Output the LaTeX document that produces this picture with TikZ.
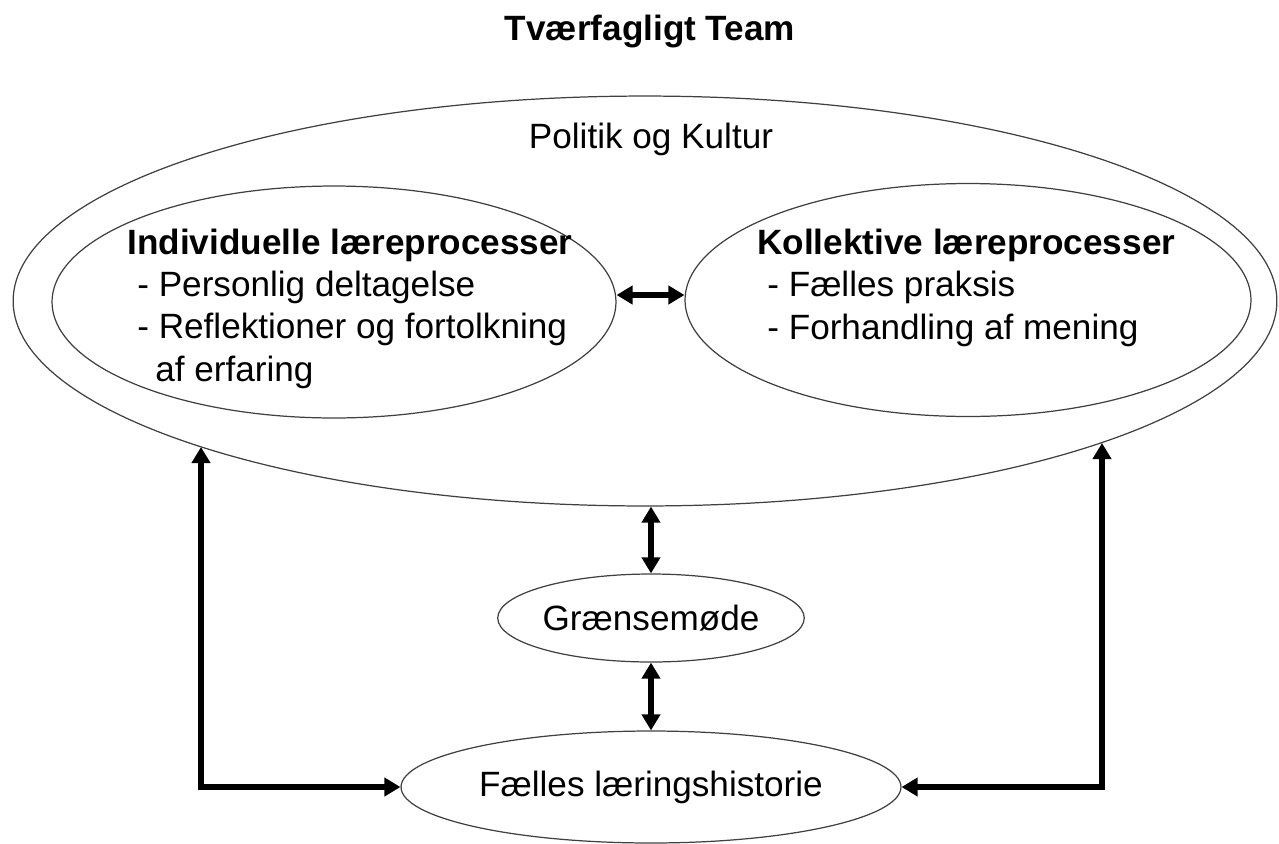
\documentclass[tikz,border=0pt]{standalone}
\usepackage{fontspec}
\setmainfont{Liberation Sans}
\usetikzlibrary{arrows.meta,shapes.geometric}

\begin{document}
\begin{tikzpicture}[x=0.02cm,y=-0.02cm,
  every node/.style={font=\fontsize{20}{24}\selectfont},
  oval/.style={ellipse,draw=black!75,line width=0.7pt,inner sep=0pt},
  link/.style={line width=3.2pt,{Triangle[length=0.32cm,width=0.36cm]}-{Triangle[length=0.32cm,width=0.36cm]}},
  block/.style={align=left,anchor=base west,inner sep=0pt}]
\useasboundingbox (0,0) rectangle (1279,843);

\node[anchor=base,font=\fontsize{20}{24}\selectfont\bfseries] (title) at (650,40) {Tværfagligt Team};

\node[oval,minimum width=25.28cm,minimum height=8.2cm] (outer) at (645,301) {};
\node[anchor=base] (polkul) at (651,148) {Politik og Kultur};

\node[oval,minimum width=11.28cm,minimum height=4.64cm] (indiv) at (334,302) {};
\node[oval,minimum width=11.32cm,minimum height=4.66cm] (kollek) at (968,300) {};

\node[block] (indivtxt) at (127,381) {\textbf{Individuelle læreprocesser}\\
  \hspace*{0.2cm}- Personlig deltagelse\\
  \hspace*{0.2cm}- Reflektioner og fortolkning\\
  \hspace*{0.56cm}af erfaring};
\node[block] (kollektxt) at (757,339) {\textbf{Kollektive læreprocesser}\\
  \hspace*{0.2cm}- Fælles praksis\\
  \hspace*{0.2cm}- Forhandling af mening};

\node[oval,minimum width=6cm,minimum height=1.76cm] (graense) at (651,618) {Grænsemøde};
\node[oval,minimum width=10cm,minimum height=2.24cm] (faelles) at (651,787) {Fælles læringshistorie};

\coordinate (mid) at (651,295);
\coordinate (lt) at (201,447);
\coordinate (rt) at (1102,443);

\draw[link] (mid -| indiv.east) -- (mid -| kollek.west);
\draw[link] (graense.north) -- (graense.north |- outer.south);
\draw[link] (graense.south) -- (faelles.north);
\draw[link] (faelles.west) -| (lt);
\draw[link] (faelles.east) -| (rt);

\end{tikzpicture}
\end{document}
